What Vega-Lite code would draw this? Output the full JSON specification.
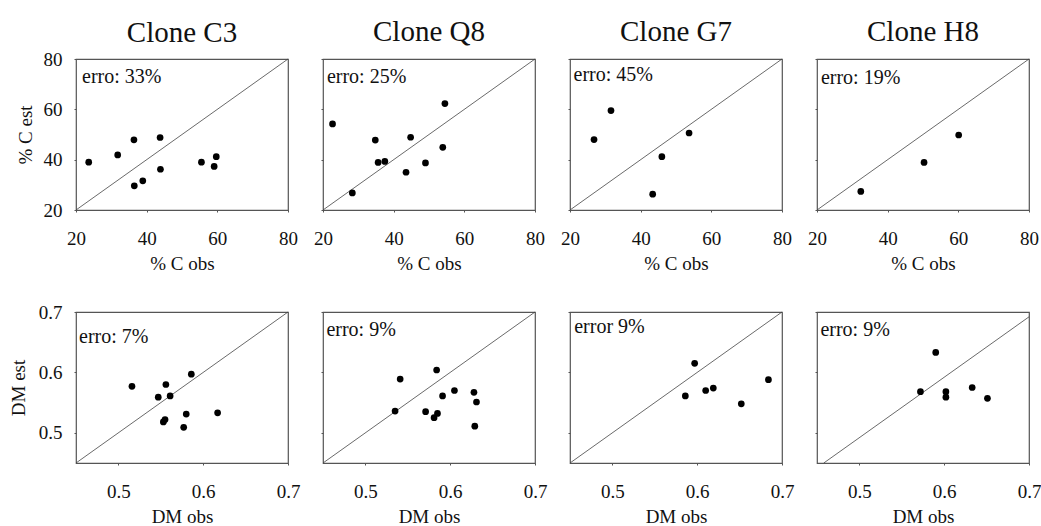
{
  "$schema": "https://vega.github.io/schema/vega-lite/v6.json",
  "background": "white",
  "padding": {"left": 8, "top": 16, "right": 0, "bottom": 0},
  "datasets": {
    "pts": [
      {"clone": "C3", "var": "C", "obs": 23.6, "est": 39.0},
      {"clone": "C3", "var": "C", "obs": 31.8, "est": 41.9},
      {"clone": "C3", "var": "C", "obs": 36.4, "est": 47.9},
      {"clone": "C3", "var": "C", "obs": 43.8, "est": 48.8},
      {"clone": "C3", "var": "C", "obs": 36.5, "est": 29.6},
      {"clone": "C3", "var": "C", "obs": 38.9, "est": 31.6},
      {"clone": "C3", "var": "C", "obs": 43.9, "est": 36.2},
      {"clone": "C3", "var": "C", "obs": 55.5, "est": 39.0},
      {"clone": "C3", "var": "C", "obs": 59.7, "est": 41.2},
      {"clone": "C3", "var": "C", "obs": 59.1, "est": 37.3},
      {"clone": "Q8", "var": "C", "obs": 22.7, "est": 54.2},
      {"clone": "Q8", "var": "C", "obs": 28.3, "est": 26.8},
      {"clone": "Q8", "var": "C", "obs": 34.8, "est": 47.8},
      {"clone": "Q8", "var": "C", "obs": 44.8, "est": 48.9},
      {"clone": "Q8", "var": "C", "obs": 54.5, "est": 62.3},
      {"clone": "Q8", "var": "C", "obs": 53.9, "est": 44.9},
      {"clone": "Q8", "var": "C", "obs": 35.6, "est": 38.9},
      {"clone": "Q8", "var": "C", "obs": 37.5, "est": 39.3},
      {"clone": "Q8", "var": "C", "obs": 43.5, "est": 35.0},
      {"clone": "Q8", "var": "C", "obs": 49.0, "est": 38.7},
      {"clone": "G7", "var": "C", "obs": 26.8, "est": 48.0},
      {"clone": "G7", "var": "C", "obs": 31.6, "est": 59.5},
      {"clone": "G7", "var": "C", "obs": 53.7, "est": 50.6},
      {"clone": "G7", "var": "C", "obs": 46.0, "est": 41.2},
      {"clone": "G7", "var": "C", "obs": 43.4, "est": 26.3},
      {"clone": "H8", "var": "C", "obs": 32.4, "est": 27.4},
      {"clone": "H8", "var": "C", "obs": 50.3, "est": 38.9},
      {"clone": "H8", "var": "C", "obs": 60.1, "est": 49.8},
      {"clone": "C3", "var": "DM", "obs": 0.516, "est": 0.577},
      {"clone": "C3", "var": "DM", "obs": 0.556, "est": 0.580},
      {"clone": "C3", "var": "DM", "obs": 0.586, "est": 0.597},
      {"clone": "C3", "var": "DM", "obs": 0.547, "est": 0.559},
      {"clone": "C3", "var": "DM", "obs": 0.561, "est": 0.561},
      {"clone": "C3", "var": "DM", "obs": 0.553, "est": 0.518},
      {"clone": "C3", "var": "DM", "obs": 0.555, "est": 0.522},
      {"clone": "C3", "var": "DM", "obs": 0.580, "est": 0.531},
      {"clone": "C3", "var": "DM", "obs": 0.577, "est": 0.509},
      {"clone": "C3", "var": "DM", "obs": 0.617, "est": 0.533},
      {"clone": "Q8", "var": "DM", "obs": 0.541, "est": 0.589},
      {"clone": "Q8", "var": "DM", "obs": 0.584, "est": 0.604},
      {"clone": "Q8", "var": "DM", "obs": 0.535, "est": 0.536},
      {"clone": "Q8", "var": "DM", "obs": 0.571, "est": 0.535},
      {"clone": "Q8", "var": "DM", "obs": 0.581, "est": 0.525},
      {"clone": "Q8", "var": "DM", "obs": 0.585, "est": 0.532},
      {"clone": "Q8", "var": "DM", "obs": 0.591, "est": 0.561},
      {"clone": "Q8", "var": "DM", "obs": 0.605, "est": 0.570},
      {"clone": "Q8", "var": "DM", "obs": 0.628, "est": 0.567},
      {"clone": "Q8", "var": "DM", "obs": 0.631, "est": 0.551},
      {"clone": "Q8", "var": "DM", "obs": 0.629, "est": 0.511},
      {"clone": "G7", "var": "DM", "obs": 0.597, "est": 0.615},
      {"clone": "G7", "var": "DM", "obs": 0.586, "est": 0.561},
      {"clone": "G7", "var": "DM", "obs": 0.610, "est": 0.570},
      {"clone": "G7", "var": "DM", "obs": 0.619, "est": 0.574},
      {"clone": "G7", "var": "DM", "obs": 0.652, "est": 0.548},
      {"clone": "G7", "var": "DM", "obs": 0.684, "est": 0.588},
      {"clone": "H8", "var": "DM", "obs": 0.590, "est": 0.633},
      {"clone": "H8", "var": "DM", "obs": 0.572, "est": 0.568},
      {"clone": "H8", "var": "DM", "obs": 0.602, "est": 0.568},
      {"clone": "H8", "var": "DM", "obs": 0.602, "est": 0.559},
      {"clone": "H8", "var": "DM", "obs": 0.633, "est": 0.575},
      {"clone": "H8", "var": "DM", "obs": 0.651, "est": 0.557}
    ]
  },
  "columns": 4,
  "spacing": {"row": 102, "column": 35},
  "bounds": "flush",
  "concat": [
    {
      "title": {"text": "Clone C3", "dy": 10}, "width": 212, "height": 151,
      "layer": [
        {"data": {"values": [{}]}, "mark": {"type": "rule", "color": "#444", "strokeWidth": 0.8},
         "encoding": {"x": {"datum": 20, "type": "quantitative", "scale": {"domain": [20, 80], "nice": false}, "axis": {"values": [20, 40, 60, 80], "title": "% C obs"}},
                      "y": {"datum": 20, "type": "quantitative", "scale": {"domain": [20, 80], "nice": false}, "axis": {"values": [20, 40, 60, 80], "title": "% C est"}},
                      "x2": {"datum": 80}, "y2": {"datum": 80}}},
        {"data": {"values": [{"label": "erro: 33%"}]}, "mark": {"type": "text", "align": "left", "baseline": "middle"},
         "encoding": {"x": {"datum": 21.7, "type": "quantitative"}, "y": {"datum": 73, "type": "quantitative"}, "text": {"field": "label"}}},
        {"data": {"name": "pts"}, "transform": [{"filter": "datum.clone=='C3' && datum.var=='C'"}], "mark": {"type": "circle", "size": 45, "color": "black", "opacity": 1},
         "encoding": {"x": {"field": "obs", "type": "quantitative"}, "y": {"field": "est", "type": "quantitative"}}}
      ]
    },
    {
      "title": "Clone Q8", "width": 212, "height": 151,
      "layer": [
        {"data": {"values": [{}]}, "mark": {"type": "rule", "color": "#444", "strokeWidth": 0.8},
         "encoding": {"x": {"datum": 20, "type": "quantitative", "scale": {"domain": [20, 80], "nice": false}, "axis": {"values": [20, 40, 60, 80], "title": "% C obs"}},
                      "y": {"datum": 20, "type": "quantitative", "scale": {"domain": [20, 80], "nice": false}, "axis": {"values": [20, 30, 40, 50, 60, 70, 80], "labels": false, "title": null}},
                      "x2": {"datum": 80}, "y2": {"datum": 80}}},
        {"data": {"values": [{"label": "erro: 25%"}]}, "mark": {"type": "text", "align": "left", "baseline": "middle"},
         "encoding": {"x": {"datum": 21.1, "type": "quantitative"}, "y": {"datum": 72.9, "type": "quantitative"}, "text": {"field": "label"}}},
        {"data": {"name": "pts"}, "transform": [{"filter": "datum.clone=='Q8' && datum.var=='C'"}], "mark": {"type": "circle", "size": 45, "color": "black", "opacity": 1},
         "encoding": {"x": {"field": "obs", "type": "quantitative"}, "y": {"field": "est", "type": "quantitative"}}}
      ]
    },
    {
      "title": "Clone G7", "width": 212, "height": 151,
      "layer": [
        {"data": {"values": [{}]}, "mark": {"type": "rule", "color": "#444", "strokeWidth": 0.8},
         "encoding": {"x": {"datum": 20, "type": "quantitative", "scale": {"domain": [20, 80], "nice": false}, "axis": {"values": [20, 40, 60, 80], "title": "% C obs"}},
                      "y": {"datum": 20, "type": "quantitative", "scale": {"domain": [20, 80], "nice": false}, "axis": {"values": [20, 30, 40, 50, 60, 70, 80], "labels": false, "title": null}},
                      "x2": {"datum": 80}, "y2": {"datum": 80}}},
        {"data": {"values": [{"label": "erro: 45%"}]}, "mark": {"type": "text", "align": "left", "baseline": "middle"},
         "encoding": {"x": {"datum": 21.0, "type": "quantitative"}, "y": {"datum": 73.6, "type": "quantitative"}, "text": {"field": "label"}}},
        {"data": {"name": "pts"}, "transform": [{"filter": "datum.clone=='G7' && datum.var=='C'"}], "mark": {"type": "circle", "size": 45, "color": "black", "opacity": 1},
         "encoding": {"x": {"field": "obs", "type": "quantitative"}, "y": {"field": "est", "type": "quantitative"}}}
      ]
    },
    {
      "title": "Clone H8", "width": 212, "height": 151,
      "layer": [
        {"data": {"values": [{}]}, "mark": {"type": "rule", "color": "#444", "strokeWidth": 0.8},
         "encoding": {"x": {"datum": 20, "type": "quantitative", "scale": {"domain": [20, 80], "nice": false}, "axis": {"values": [20, 40, 60, 80], "title": "% C obs"}},
                      "y": {"datum": 20, "type": "quantitative", "scale": {"domain": [20, 80], "nice": false}, "axis": {"values": [20, 30, 40, 50, 60, 70, 80], "labels": false, "title": null}},
                      "x2": {"datum": 80}, "y2": {"datum": 80}}},
        {"data": {"values": [{"label": "erro: 19%"}]}, "mark": {"type": "text", "align": "left", "baseline": "middle"},
         "encoding": {"x": {"datum": 21.1, "type": "quantitative"}, "y": {"datum": 72.5, "type": "quantitative"}, "text": {"field": "label"}}},
        {"data": {"name": "pts"}, "transform": [{"filter": "datum.clone=='H8' && datum.var=='C'"}], "mark": {"type": "circle", "size": 45, "color": "black", "opacity": 1},
         "encoding": {"x": {"field": "obs", "type": "quantitative"}, "y": {"field": "est", "type": "quantitative"}}}
      ]
    },
    {
      "width": 212, "height": 151,
      "layer": [
        {"data": {"values": [{}]}, "mark": {"type": "rule", "color": "#444", "strokeWidth": 0.8},
         "encoding": {"x": {"datum": 0.45, "type": "quantitative", "scale": {"domain": [0.45, 0.7], "nice": false, "zero": false}, "axis": {"values": [0.5, 0.6, 0.7], "format": ".1f", "title": "DM obs"}},
                      "y": {"datum": 0.45, "type": "quantitative", "scale": {"domain": [0.45, 0.7], "nice": false, "zero": false}, "axis": {"values": [0.5, 0.6, 0.7], "format": ".1f", "title": "DM est", "titlePadding": 10}},
                      "x2": {"datum": 0.7}, "y2": {"datum": 0.7}}},
        {"data": {"values": [{"label": "erro: 7%"}]}, "mark": {"type": "text", "align": "left", "baseline": "middle"},
         "encoding": {"x": {"datum": 0.4536, "type": "quantitative"}, "y": {"datum": 0.659, "type": "quantitative"}, "text": {"field": "label"}}},
        {"data": {"name": "pts"}, "transform": [{"filter": "datum.clone=='C3' && datum.var=='DM'"}], "mark": {"type": "circle", "size": 45, "color": "black", "opacity": 1},
         "encoding": {"x": {"field": "obs", "type": "quantitative"}, "y": {"field": "est", "type": "quantitative"}}}
      ]
    },
    {
      "width": 212, "height": 151,
      "layer": [
        {"data": {"values": [{}]}, "mark": {"type": "rule", "color": "#444", "strokeWidth": 0.8},
         "encoding": {"x": {"datum": 0.45, "type": "quantitative", "scale": {"domain": [0.45, 0.7], "nice": false, "zero": false}, "axis": {"values": [0.5, 0.6, 0.7], "format": ".1f", "title": "DM obs"}},
                      "y": {"datum": 0.45, "type": "quantitative", "scale": {"domain": [0.45, 0.7], "nice": false, "zero": false}, "axis": {"values": [0.5, 0.6, 0.7], "labels": false, "title": null}},
                      "x2": {"datum": 0.7}, "y2": {"datum": 0.7}}},
        {"data": {"values": [{"label": "erro: 9%"}]}, "mark": {"type": "text", "align": "left", "baseline": "middle"},
         "encoding": {"x": {"datum": 0.454, "type": "quantitative"}, "y": {"datum": 0.67, "type": "quantitative"}, "text": {"field": "label"}}},
        {"data": {"name": "pts"}, "transform": [{"filter": "datum.clone=='Q8' && datum.var=='DM'"}], "mark": {"type": "circle", "size": 45, "color": "black", "opacity": 1},
         "encoding": {"x": {"field": "obs", "type": "quantitative"}, "y": {"field": "est", "type": "quantitative"}}}
      ]
    },
    {
      "width": 212, "height": 151,
      "layer": [
        {"data": {"values": [{}]}, "mark": {"type": "rule", "color": "#444", "strokeWidth": 0.8},
         "encoding": {"x": {"datum": 0.45, "type": "quantitative", "scale": {"domain": [0.45, 0.7], "nice": false, "zero": false}, "axis": {"values": [0.5, 0.6, 0.7], "format": ".1f", "title": "DM obs"}},
                      "y": {"datum": 0.45, "type": "quantitative", "scale": {"domain": [0.45, 0.7], "nice": false, "zero": false}, "axis": {"values": [0.5, 0.6, 0.7], "labels": false, "title": null}},
                      "x2": {"datum": 0.7}, "y2": {"datum": 0.7}}},
        {"data": {"values": [{"label": "error 9%"}]}, "mark": {"type": "text", "align": "left", "baseline": "middle"},
         "encoding": {"x": {"datum": 0.455, "type": "quantitative"}, "y": {"datum": 0.675, "type": "quantitative"}, "text": {"field": "label"}}},
        {"data": {"name": "pts"}, "transform": [{"filter": "datum.clone=='G7' && datum.var=='DM'"}], "mark": {"type": "circle", "size": 45, "color": "black", "opacity": 1},
         "encoding": {"x": {"field": "obs", "type": "quantitative"}, "y": {"field": "est", "type": "quantitative"}}}
      ]
    },
    {
      "width": 212, "height": 151,
      "layer": [
        {"data": {"values": [{}]}, "mark": {"type": "rule", "color": "#444", "strokeWidth": 0.8},
         "encoding": {"x": {"datum": 0.458, "type": "quantitative", "scale": {"domain": [0.45, 0.7], "nice": false, "zero": false}, "axis": {"values": [0.5, 0.6, 0.7], "format": ".1f", "title": "DM obs"}},
                      "y": {"datum": 0.45, "type": "quantitative", "scale": {"domain": [0.45, 0.7], "nice": false, "zero": false}, "axis": {"values": [0.5, 0.6, 0.7], "labels": false, "title": null}},
                      "x2": {"datum": 0.7}, "y2": {"datum": 0.692}}},
        {"data": {"values": [{"label": "erro: 9%"}]}, "mark": {"type": "text", "align": "left", "baseline": "middle"},
         "encoding": {"x": {"datum": 0.454, "type": "quantitative"}, "y": {"datum": 0.67, "type": "quantitative"}, "text": {"field": "label"}}},
        {"data": {"name": "pts"}, "transform": [{"filter": "datum.clone=='H8' && datum.var=='DM'"}], "mark": {"type": "circle", "size": 45, "color": "black", "opacity": 1},
         "encoding": {"x": {"field": "obs", "type": "quantitative"}, "y": {"field": "est", "type": "quantitative"}}}
      ]
    }
  ],
  "config": {
    "font": "Liberation Serif, Times New Roman, DejaVu Serif, serif",
    "view": {"stroke": "#555", "strokeWidth": 1.2},
    "axis": {
      "labelFont": "Liberation Serif, Times New Roman, DejaVu Serif, serif", "labelFontSize": 19, "labelColor": "#111",
      "titleFont": "Liberation Serif, Times New Roman, DejaVu Serif, serif", "titleFontSize": 19, "titleFontWeight": "normal", "titleColor": "#111",
      "domain": false, "grid": false, "ticks": true, "tickColor": "#555", "tickSize": 2,
      "labelFlush": false, "labelOverlap": false, "labelBound": false
    },
    "axisX": {"labelPadding": 17, "titlePadding": 6},
    "axisY": {"labelPadding": 12, "titlePadding": 8},
    "title": {"font": "Liberation Serif, Times New Roman, DejaVu Serif, serif", "fontSize": 29, "fontWeight": "normal", "color": "#111", "offset": 12, "anchor": "middle"},
    "text": {"font": "Liberation Serif, Times New Roman, DejaVu Serif, serif", "fontSize": 20, "color": "#111"}
  }
}
